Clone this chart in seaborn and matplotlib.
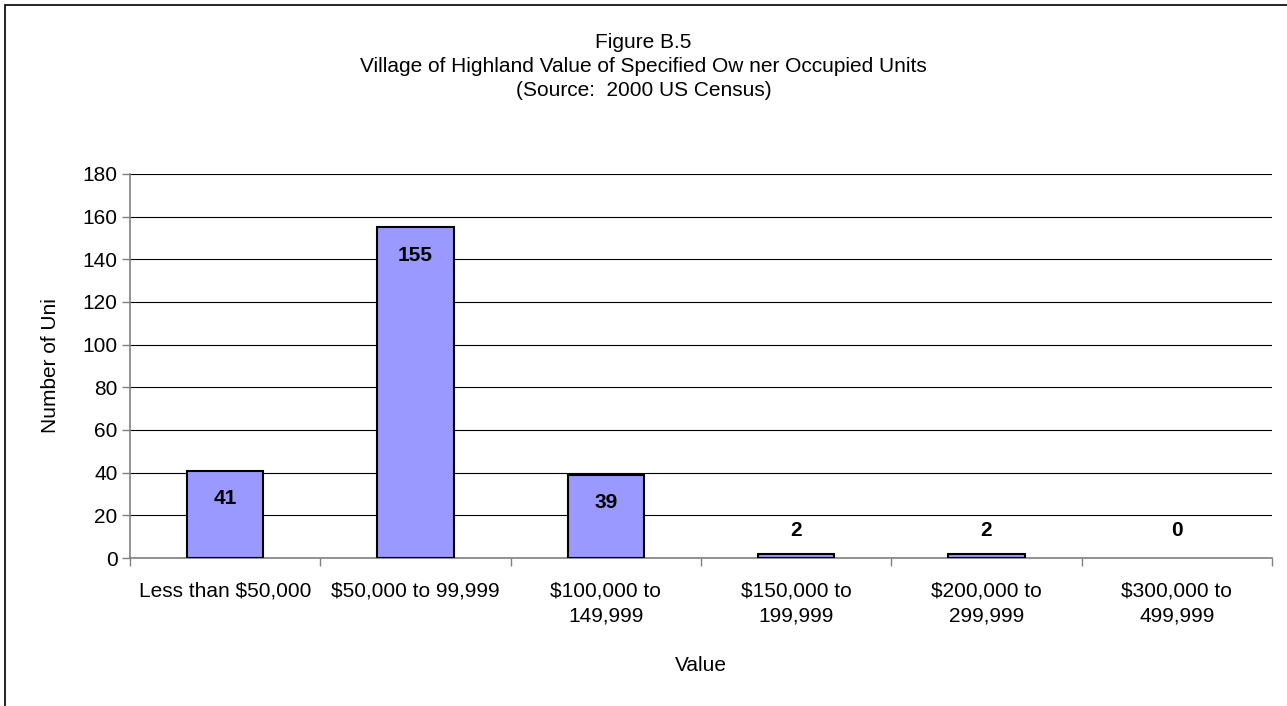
import matplotlib
matplotlib.use("Agg")
import matplotlib.pyplot as plt
import seaborn as sns
from matplotlib.patches import Rectangle
from matplotlib.ticker import FixedLocator

categories = ["Less than $50,000", "$50,000 to 99,999", "$100,000 to\n149,999",
              "$150,000 to\n199,999", "$200,000 to\n299,999", "$300,000 to\n499,999"]
values = [41, 155, 39, 2, 2, 0]
y_ticks = [0, 20, 40, 60, 80, 100, 120, 140, 160, 180]

sns.set_theme(style="white")
plt.rcParams["font.family"] = ["Liberation Sans", "DejaVu Sans"]
plt.rcParams["text.color"] = "black"
plt.rcParams["axes.labelcolor"] = "black"

FS = 15
W, H = 1287, 706
fig = plt.figure(figsize=(W / 100, H / 100), dpi=100)
ax = fig.add_axes([130 / W, 1 - 558 / H, (1272 - 130) / W, (558 - 174) / H])

sns.barplot(x=categories, y=values, color="#9999FF", width=0.4,
            edgecolor="black", linewidth=1.5, saturation=1, ax=ax, zorder=3)
for bar, v in zip(ax.patches, values):
    if v == 0:
        bar.set_linewidth(0)

ax.set_ylim(0, 180)
ax.set_xlim(-0.5, len(categories) - 0.5)
ax.set_yticks(y_ticks)
ax.grid(axis="y", color="black", linewidth=0.8, zorder=0)
ax.set_axisbelow(True)

for s in ["top", "right"]:
    ax.spines[s].set_visible(False)
for s in ["left", "bottom"]:
    ax.spines[s].set_color("#808080")
    ax.spines[s].set_linewidth(1.2)

ax.tick_params(axis="y", which="major", direction="out", length=6, width=1,
               color="#808080", labelcolor="black", labelsize=FS, pad=3, left=True)
ax.tick_params(axis="x", which="major", length=0, labelsize=FS, labelcolor="black", pad=17)
ax.xaxis.set_minor_locator(FixedLocator([i - 0.5 for i in range(len(categories) + 1)]))
ax.tick_params(axis="x", which="minor", direction="out", length=6, width=1,
               color="#808080", bottom=True)
for lbl in ax.get_xticklabels():
    lbl.set_linespacing(1.4)
    lbl.set_verticalalignment("top")

for i, v in enumerate(values):
    if v >= 10:
        ax.annotate(str(v), (i, v), xytext=(0, -20), textcoords="offset points",
                    ha="center", va="center", fontsize=FS, fontweight="bold", zorder=5)
    else:
        ax.annotate(str(v), (i, 0), xytext=(0, 20), textcoords="offset points",
                    ha="center", va="center", fontsize=FS, fontweight="bold", zorder=5)

ax.set_ylabel("Number of Uni", fontsize=FS, labelpad=16)
ax.set_xlabel("Value", fontsize=FS, labelpad=22)

fig.text(0.5, 1 - 43 / H, "Figure B.5", ha="center", va="center", fontsize=FS)
fig.text(0.5, 1 - 67 / H, "Village of Highland Value of Specified Ow ner Occupied Units",
         ha="center", va="center", fontsize=FS)
fig.text(0.5, 1 - 91 / H, "(Source:  2000 US Census)", ha="center", va="center", fontsize=FS)

fig.patches.append(Rectangle((5 / W, -0.1), 1.2, 1.1 - 5 / H, transform=fig.transFigure,
                             fill=False, edgecolor="black", linewidth=1.2, figure=fig))

fig.savefig("out.png", dpi=100)
